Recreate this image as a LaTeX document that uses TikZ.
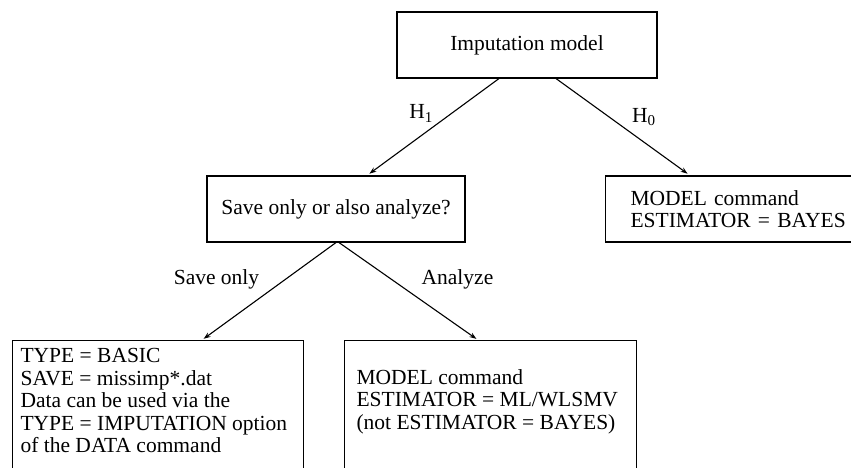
\documentclass[tikz,border=0pt]{standalone}
\usepackage{fontspec}
\setmainfont{Liberation Serif}
\usetikzlibrary{arrows.meta,positioning}

\begin{document}
\begin{tikzpicture}[x=1pt,y=-1pt,>={Stealth[length=7pt,width=5pt]},line width=1.1pt,
  every node/.style={font=\fontsize{21.5}{22.5}\selectfont},
  box/.style={draw,minimum height=66pt,align=center},
  openbox/.style={draw,anchor=north west,minimum height=160pt,inner sep=0pt},
  lbl/.style={inner sep=0pt}]
\clip (0,0) rectangle (851,467);
\node[box,minimum width=260pt] (imp) at (527,45) {Imputation model};
\node[box,minimum width=258pt] (choice) at (336,209) {Save only or also analyze?};
\node[box,anchor=west,align=left,text width=260pt,inner xsep=25pt] (bayes) at (605,209) {MODEL command\\ESTIMATOR = BAYES};
\node[openbox,minimum width=291pt] (save) at (12,340) {};
\node[openbox,minimum width=292pt] (analyze) at (344,340) {};
\node[lbl,align=left,below right=8pt and 8pt of save.north west] (savetxt)
  {TYPE = BASIC\\SAVE = missimp*.dat\\Data can be used via the\\TYPE = IMPUTATION option\\of the DATA command};
\node[lbl,align=left,below right=29pt and 12pt of analyze.north west] (analyzetxt)
  {MODEL command\\ESTIMATOR = ML/WLSMV\\(not ESTIMATOR = BAYES)};
% branches
\draw[->,shorten >=3pt] ([xshift=-28pt]imp.south) -- ([xshift=31pt]choice.north)
  node[lbl,pos=.36,left=18pt] (h1) {H\textsubscript{1}};
\draw[->,shorten >=3pt] ([xshift=29pt]imp.south) -- ([xshift=85pt]bayes.north west)
  node[lbl,pos=.4,right=22pt] (h0) {H\textsubscript{0}};
\draw[->,shorten >=2pt] (choice.south) -- ([xshift=190pt]save.north west)
  node[lbl,pos=.375,left=26pt] (saveonly) {Save only};
\draw[->,shorten >=2pt] ([xshift=3pt]choice.south) -- ([xshift=134pt]analyze.north west)
  node[lbl,pos=.375,right=30pt] (analyzelbl) {Analyze};
\end{tikzpicture}
\end{document}
